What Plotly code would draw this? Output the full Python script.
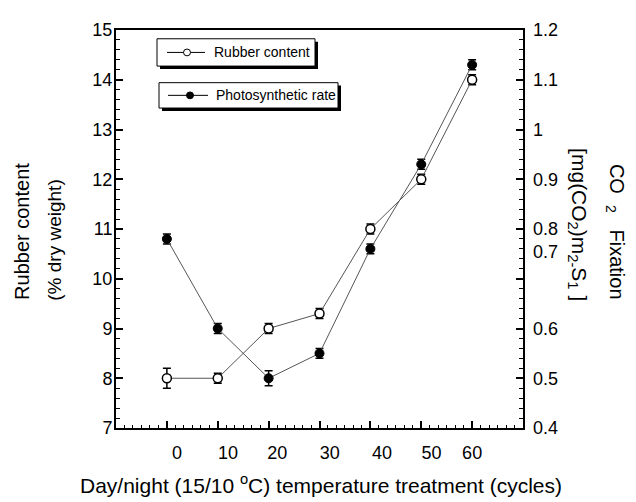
import plotly.graph_objects as go

# ---------------- data ----------------
cycles = [0, 10, 20, 30, 40, 50, 60]
rubber_content = [8.0, 8.0, 9.0, 9.3, 11.0, 12.0, 14.0]
rubber_err = [0.2, 0.1, 0.1, 0.1, 0.1, 0.1, 0.1]
photo_rate = [0.78, 0.60, 0.50, 0.55, 0.76, 0.93, 1.13]
photo_err = [0.01, 0.01, 0.015, 0.01, 0.01, 0.01, 0.01]

x_label_pos = [2, 12, 21.7, 32, 42.3, 52, 60]
x_label_text = ["0", "10", "20", "30", "40", "50", "60"]
right_label_pos = [0.4, 0.5, 0.6, 0.755, 0.8, 0.9, 1.0, 1.1, 1.2]
right_label_text = ["0.4", "0.5", "0.6", "0.7", "0.8", "0.9", "1", "1.1", "1.2"]

FONT = "Arial, Liberation Sans, sans-serif"
OFF = 8                      # page body margin of the html page
W, H = 636 - OFF, 502 - OFF
# plot area in screenshot pixels
L, R, T, B = 116, 523, 20, 428


def px(xp):
    return (xp - L) / (R - L)


def py(yp):
    return (B - yp) / (B - T)


fig = go.Figure()

fig.add_trace(go.Scatter(
    x=cycles, y=rubber_content, mode="lines+markers", name="Rubber content",
    line=dict(color="#555555", width=1),
    marker=dict(symbol="circle", size=9, color="white", line=dict(color="black", width=1.5)),
    error_y=dict(type="data", array=rubber_err, color="black", thickness=1.5, width=4),
    xaxis="x", yaxis="y", showlegend=False,
))
fig.add_trace(go.Scatter(
    x=cycles, y=photo_rate, mode="lines+markers", name="Photosynthetic rate",
    line=dict(color="#555555", width=1),
    marker=dict(symbol="circle", size=9, color="black", line=dict(color="black", width=1)),
    error_y=dict(type="data", array=photo_err, color="black", thickness=1.5, width=4),
    xaxis="x2", yaxis="y2", showlegend=False,
))

tickfont = dict(family=FONT, size=18, color="black")

fig.update_layout(
    width=W, height=H,
    margin=dict(l=L - OFF, r=W - (R - OFF), t=T - OFF, b=H - (B - OFF), pad=0),
    paper_bgcolor="white", plot_bgcolor="white",
    font=dict(family=FONT, color="black"),
    xaxis=dict(
        range=[-10, 70], showgrid=False, zeroline=False,
        showline=True, linecolor="black", linewidth=2, mirror=True,
        ticks="inside", tick0=0, dtick=10, ticklen=7, tickwidth=1.5, tickcolor="black",
        minor=dict(ticks="inside", dtick=10 / 6, tick0=0, ticklen=3, tickwidth=1, tickcolor="black"),
        showticklabels=False,
    ),
    xaxis2=dict(
        overlaying="x", anchor="y", side="bottom", range=[-10, 70],
        showgrid=False, zeroline=False, showline=False, ticks="",
        tickmode="array", tickvals=x_label_pos, ticktext=x_label_text,
        tickfont=tickfont, ticklabelstandoff=12,
    ),
    yaxis=dict(
        range=[7, 15], showgrid=False, zeroline=False,
        showline=True, linecolor="black", linewidth=2, mirror="ticks",
        ticks="inside", tick0=7, dtick=1, ticklen=7, tickwidth=1.5, tickcolor="black",
        minor=dict(ticks="inside", dtick=0.2, tick0=7, ticklen=4, tickwidth=1, tickcolor="black"),
        tickfont=tickfont, ticklabelstandoff=-2,
    ),
    yaxis2=dict(
        overlaying="y", anchor="x", side="right", range=[0.4, 1.2],
        showgrid=False, zeroline=False, showline=False, ticks="",
        tickmode="array", tickvals=right_label_pos, ticktext=right_label_text,
        tickfont=tickfont, ticklabelstandoff=9,
    ),
)

annotations = []
# axis titles
annotations.append(dict(
    text="Day/night (15/10 <sup>o</sup>C) temperature treatment (cycles)",
    xref="paper", yref="paper", x=px(321), y=py(485), xanchor="center", yanchor="middle",
    showarrow=False, font=dict(family=FONT, size=21, color="black"),
))
annotations.append(dict(
    text="Rubber content", xref="paper", yref="paper", x=px(22), y=py(227),
    xanchor="center", yanchor="middle", textangle=-90, showarrow=False,
    font=dict(family=FONT, size=20, color="black"),
))
annotations.append(dict(
    text="(% dry weight)", xref="paper", yref="paper", x=px(55), y=py(236),
    xanchor="center", yanchor="middle", textangle=-90, showarrow=False,
    font=dict(family=FONT, size=19, color="black"),
))
annotations.append(dict(
    text="[mg(CO<sub>2</sub>)m<sub>2-</sub>S<sub>1</sub> ]", xref="paper", yref="paper",
    x=px(578), y=py(219), xanchor="center", yanchor="middle", textangle=90, showarrow=False,
    font=dict(family=FONT, size=21, color="black"),
))
annotations.append(dict(
    text="CO  <sub>2</sub>   Fixation", xref="paper", yref="paper",
    x=px(615), y=py(227), xanchor="center", yanchor="middle", textangle=90, showarrow=False,
    font=dict(family=FONT, size=20, color="black"),
))

# legend boxes (drawn as shapes + text)
legend_items = [
    # (box x0, x1, y0, y1, line x0, x1, marker x, marker fill, text x, label)
    (157, 315, 29, 57, 167, 205, 187, "white", 212, "Rubber content"),
    (159, 338, 74, 100, 168, 208, 190, "black", 214, "Photosynthetic rate"),
]
shapes = []
for bx0, bx1, by0, by1, lx0, lx1, mx, mfill, tx, label in legend_items:
    cy = (by0 + by1) / 2
    shapes.append(dict(type="rect", xref="paper", yref="paper",
                       x0=px(bx0 + 3), x1=px(bx1 + 3), y0=py(by1 + 3), y1=py(by0 + 3),
                       fillcolor="black", line=dict(width=0), layer="above"))
    shapes.append(dict(type="rect", xref="paper", yref="paper",
                       x0=px(bx0), x1=px(bx1), y0=py(by1), y1=py(by0),
                       fillcolor="white", line=dict(color="black", width=1), layer="above"))
    shapes.append(dict(type="line", xref="paper", yref="paper",
                       x0=px(lx0), x1=px(lx1), y0=py(cy), y1=py(cy),
                       line=dict(color="black", width=1), layer="above"))
    shapes.append(dict(type="circle", xref="paper", yref="paper",
                       x0=px(mx - 3.5), x1=px(mx + 3.5), y0=py(cy + 3.5), y1=py(cy - 3.5),
                       fillcolor=mfill, line=dict(color="black", width=1), layer="above"))
    annotations.append(dict(text=label, xref="paper", yref="paper", x=px(tx), y=py(cy),
                            xanchor="left", yanchor="middle", showarrow=False,
                            font=dict(family=FONT, size=14, color="black")))

fig.update_layout(annotations=annotations, shapes=shapes)

fig.write_html("out.html")
